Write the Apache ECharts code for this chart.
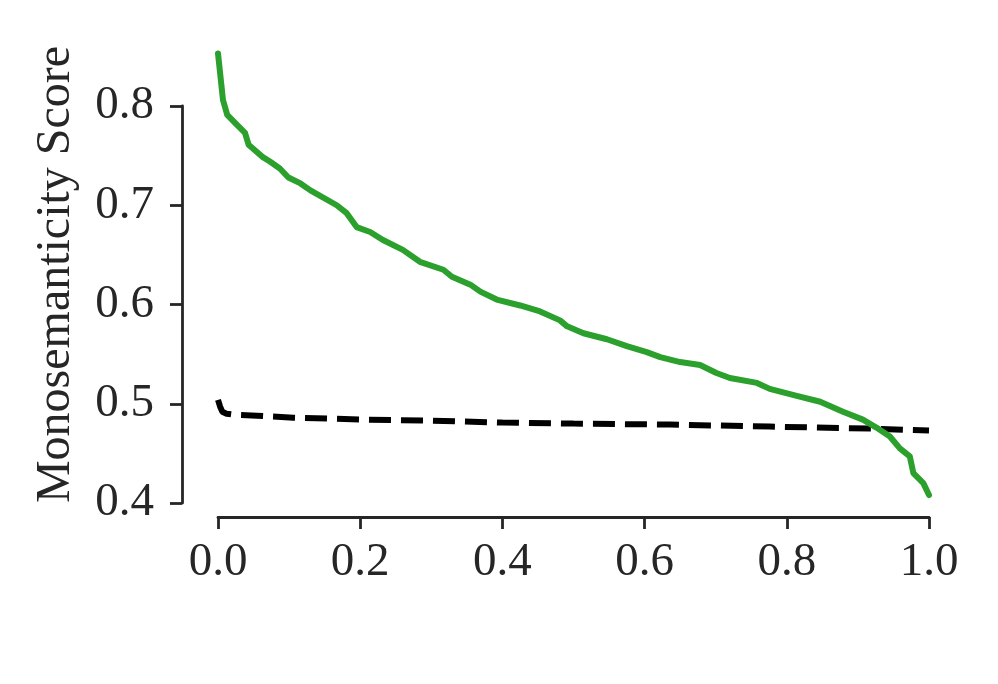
<!DOCTYPE html>
<html>
<head>
<meta charset="utf-8">
<script src="https://cdn.jsdelivr.net/npm/echarts@6/dist/echarts.min.js"></script>
<style>
  html, body { margin: 0; padding: 0; background: #fff; }
  #chart { width: 998px; height: 684px; }
</style>
</head>
<body>
<div id="chart"></div>
<script>
// fraction of features (x) vs monosemanticity score (y)
const modelX = [0, 0.007, 0.013, 0.024, 0.038, 0.043, 0.062, 0.073, 0.087, 0.099, 0.116, 0.130,
  0.167, 0.181, 0.195, 0.214, 0.232, 0.260, 0.284, 0.317, 0.329, 0.355, 0.369, 0.392, 0.425,
  0.453, 0.481, 0.491, 0.514, 0.547, 0.575, 0.603, 0.622, 0.650, 0.678, 0.701, 0.720, 0.758,
  0.776, 0.814, 0.847, 0.879, 0.907, 0.926, 0.945, 0.959, 0.973, 0.978, 0.992, 1.0]
const modelY = [0.853, 0.806, 0.791, 0.783, 0.773, 0.761, 0.749, 0.744, 0.737, 0.728, 0.722, 0.715,
  0.700, 0.692, 0.678, 0.673, 0.665, 0.655, 0.643, 0.635, 0.628, 0.620, 0.613, 0.605, 0.599,
  0.593, 0.584, 0.578, 0.571, 0.565, 0.558, 0.552, 0.547, 0.542, 0.539, 0.531, 0.526, 0.521,
  0.515, 0.508, 0.502, 0.492, 0.484, 0.476, 0.467, 0.455, 0.447, 0.430, 0.420, 0.408]

const baseX = [0, 0.003, 0.006, 0.012, 0.022, 0.055, 0.106, 0.209, 0.298, 0.4, 0.5, 0.636, 0.776, 0.917, 1.0]
const baseY = [0.504, 0.497, 0.492, 0.490, 0.489, 0.488, 0.486, 0.484, 0.483, 0.481, 0.480, 0.479, 0.477, 0.475, 0.473]

const xTicks = [0, 0.2, 0.4, 0.6, 0.8, 1.0]
const yTicks = [0.4, 0.5, 0.6, 0.7, 0.8]

const ink = '#262626'
const font = '"Liberation Serif", "Times New Roman", serif'

const chart = echarts.init(document.getElementById('chart'))
chart.setOption({
  animation: false,
  grid: { left: 218, right: 69, top: 106, bottom: 181 },
  xAxis: {
    type: 'value',
    min: xTicks[0],
    max: xTicks[xTicks.length - 1],
    interval: 0.2,
    offset: 14,
    splitLine: { show: false },
    axisLine: { onZero: false, lineStyle: { color: ink, width: 2.8 } },
    axisTick: { length: 12, lineStyle: { color: ink, width: 2.8 } },
    axisLabel: {
      margin: 22, color: ink, fontFamily: font, fontSize: 47,
      formatter: v => v.toFixed(1)
    }
  },
  yAxis: {
    type: 'value',
    min: yTicks[0],
    max: yTicks[yTicks.length - 1],
    interval: 0.1,
    offset: 36,
    splitLine: { show: false },
    axisLine: { show: true, onZero: false, lineStyle: { color: ink, width: 2.8 } },
    axisTick: { show: true, length: 12, lineStyle: { color: ink, width: 2.8 } },
    axisLabel: {
      margin: 28, color: ink, fontFamily: font, fontSize: 47,
      formatter: v => v.toFixed(1)
    },
    name: 'Monosemanticity Score',
    nameLocation: 'middle',
    nameGap: 102,
    nameTextStyle: {
      color: ink, fontFamily: font, fontSize: 48,
      padding: [0, 0, 0, 60]
    }
  },
  series: [
    {
      type: 'line',
      data: baseX.map((x, i) => [x, baseY[i]]),
      showSymbol: false,
      clip: false,
      z: 2,
      lineStyle: { color: '#000', width: 6, type: [22, 10] }
    },
    {
      type: 'line',
      data: modelX.map((x, i) => [x, modelY[i]]),
      showSymbol: false,
      clip: false,
      z: 3,
      lineStyle: { color: '#2ca02c', width: 6, cap: 'round', join: 'round' }
    }
  ]
})
</script>
</body>
</html>
